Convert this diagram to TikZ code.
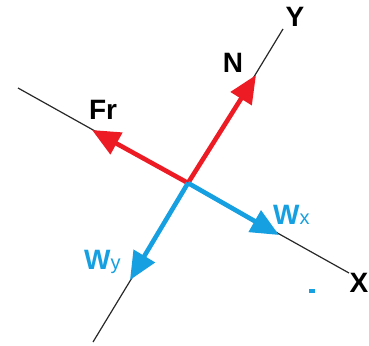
\documentclass[tikz,border=0pt]{standalone}
\usepackage{fontspec}
\setmainfont{Liberation Sans}
\usetikzlibrary{arrows.meta}
\definecolor{fred}{RGB}{237,28,36}
\definecolor{fblue}{RGB}{22,160,226}
\definecolor{axisgray}{RGB}{40,40,40}
\begin{document}
\begin{tikzpicture}[x=1pt,y=-1pt,
  axisline/.style={draw=axisgray,line width=1.2pt},
  force/.style={line width=4.6pt,-{Triangle[length=28pt,width=24pt]}},
  lab/.style={font=\fontsize{28}{28}\selectfont\bfseries,inner sep=0pt},
  sub/.style={font=\fontsize{20}{20}\selectfont\mdseries}]
\useasboundingbox (0,0) rectangle (369,345);
\coordinate (O) at (188,183);
\coordinate (ytop) at (283,29);
\coordinate (ybot) at (93,342);
\coordinate (xleft) at (18,88);
\coordinate (xright) at (349,273);
\coordinate (tN) at (256,75);
\coordinate (tFr) at (92,130);
\coordinate (tWx) at (279,235);
\coordinate (tWy) at (130,280);
\draw[axisline] (ybot) -- (ytop);
\draw[axisline] (xleft) -- (xright);
\draw[force,fred] (O) -- (tN);
\draw[force,fred] (O) -- (tFr);
\draw[force,fblue] (O) -- (tWx);
\draw[force,fblue] (O) -- (tWy);
\node[lab] (lY) at (295,17) {Y};
\node[lab] (lN) at (233,63) {N};
\node[lab] (lFr) at (103,110) {Fr};
\node[lab] (lX) at (359,283) {X};
\node[lab,text=fblue,anchor=base west] (lWx) at (273,224) {W{\fontsize{20}{20}\selectfont\mdseries x}};
\node[lab,text=fblue,anchor=base west] (lWy) at (84,269) {W{\fontsize{20}{20}\selectfont\mdseries y}};
\node[fill=fblue,inner sep=0pt,minimum width=6pt,minimum height=4pt] (ldash) at (312,291) {};
\end{tikzpicture}
\end{document}
